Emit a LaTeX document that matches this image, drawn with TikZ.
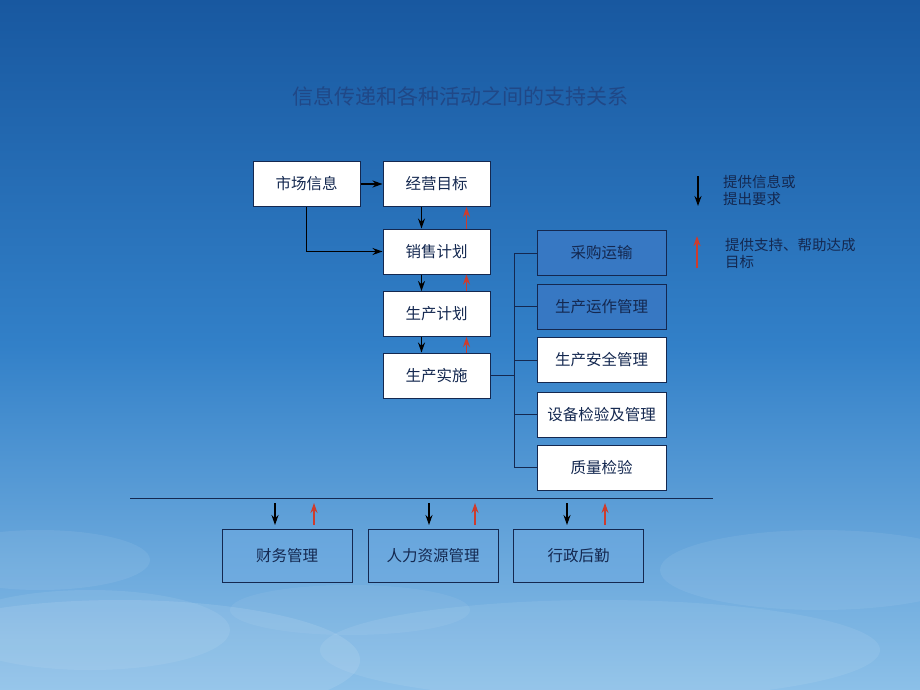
\documentclass[tikz,border=0pt]{standalone}
\usepackage{fontspec}
\setmainfont{Noto Sans CJK SC}
\usetikzlibrary{arrows.meta}
\definecolor{skytop}{RGB}{24,88,160}
\definecolor{skymid}{RGB}{50,128,200}
\definecolor{skybot}{RGB}{140,192,232}
\definecolor{navy}{RGB}{20,40,80}
\definecolor{titlec}{RGB}{32,72,135}
\definecolor{darkbox}{RGB}{55,120,195}
\definecolor{lightbox}{RGB}{110,170,225}
\definecolor{redarr}{RGB}{205,60,45}
\tikzset{
  box/.style={draw=navy, line width=1pt, fill=white, minimum width=107pt, minimum height=45pt, inner sep=0pt, font=\fontsize{15.5}{18}\selectfont, text=navy},
  rbox/.style={box, minimum width=129pt},
  bluebox/.style={rbox, fill=darkbox},
  bbox/.style={box, minimum width=130pt, minimum height=53pt, fill=lightbox, fill opacity=0.5, text opacity=1},
  downarr/.style={-{Stealth[length=10pt,width=7pt]}, line width=1.2pt, draw=black},
  uparr/.style={-{Stealth[length=10pt,width=7pt]}, line width=1.2pt, draw=redarr, fill=redarr},
  ln/.style={line width=1pt, draw=navy},
  leg/.style={font=\fontsize{14.5}{17}\selectfont, text=navy, align=left, anchor=north west, inner sep=0pt}
}
\begin{document}
\begin{tikzpicture}[x=1pt,y=-1pt]
\useasboundingbox (0,0) rectangle (920,690);
\shade[top color=skytop, bottom color=skymid] (0,0) rectangle (920,345);
\shade[top color=skymid, bottom color=skybot] (0,345) rectangle (920,690);
\foreach \cx/\cy/\rx/\ry/\op in {120/660/240/60/0.10, 90/630/140/40/0.08, 600/650/280/50/0.08, 820/570/160/40/0.07, 40/560/110/30/0.07, 350/610/120/25/0.06} {
  \fill[white, opacity=\op] (\cx,\cy) ellipse (\rx pt and \ry pt);
}

\node[text=titlec, font=\fontsize{21}{24}\selectfont] (title) at (460,96) {信息传递和各种活动之间的支持关系};

\node[box] (sc) at (306.5,184) {市场信息};
\node[box] (jy) at (436.5,184) {经营目标};
\node[box] (xs) at (436.5,251.5) {销售计划};
\node[box] (sj) at (436.5,314) {生产计划};
\node[box] (ss) at (436.5,375.5) {生产实施};

\node[bluebox] (cg) at (601.5,253) {采购运输};
\node[bluebox] (yz) at (601.5,306.5) {生产运作管理};
\node[rbox] (aq) at (601.5,360) {生产安全管理};
\node[rbox] (sb) at (601.5,414.5) {设备检验及管理};
\node[rbox] (zl) at (601.5,467.5) {质量检验};

\node[bbox] (cw) at (287,555.5) {财务管理};
\node[bbox] (rl) at (433,555.5) {人力资源管理};
\node[bbox] (xz) at (578.5,555.5) {行政后勤};

\draw[downarr] (sc.east) -- (jy.west);
\draw[downarr] (sc.south) |- (xs.west);
\draw[downarr] ([xshift=-15pt]jy.south) -- ([xshift=-15pt]xs.north);
\draw[downarr] ([xshift=-15pt]xs.south) -- ([xshift=-15pt]sj.north);
\draw[downarr] ([xshift=-15pt]sj.south) -- ([xshift=-15pt]ss.north);
\draw[uparr] ([xshift=30pt]xs.north) -- ([xshift=30pt]jy.south);
\draw[uparr] ([xshift=30pt]sj.north) -- ([xshift=30pt]xs.south);
\draw[uparr] ([xshift=30pt]ss.north) -- ([xshift=30pt]sj.south);

\coordinate (bj) at (514,375.5);
\draw[ln] (ss.east) -- (bj);
\draw[ln] (bj |- cg.west) -- (bj |- zl.west);
\foreach \n in {cg,yz,aq,sb,zl} \draw[ln] (bj |- \n.west) -- (\n.west);

\coordinate (hl) at (130,498);
\coordinate (hr) at (713,498);
\draw[line width=1pt, draw=navy] (hl) -- (hr);

\coordinate (a1) at (275,503); \coordinate (a2) at (275,525);
\coordinate (b1) at (314,525); \coordinate (b2) at (314,503);
\coordinate (c1) at (429,503); \coordinate (c2) at (429,525);
\coordinate (d1) at (475,525); \coordinate (d2) at (475,503);
\coordinate (e1) at (567,503); \coordinate (e2) at (567,525);
\coordinate (f1) at (605,525); \coordinate (f2) at (605,503);
\draw[downarr] (a1) -- (a2);
\draw[uparr] (b1) -- (b2);
\draw[downarr] (c1) -- (c2);
\draw[uparr] (d1) -- (d2);
\draw[downarr] (e1) -- (e2);
\draw[uparr] (f1) -- (f2);

\coordinate (la1) at (698,176);
\coordinate (la2) at (698,206);
\draw[downarr, line width=1.6pt] (la1) -- (la2);
\coordinate (lb1) at (697,268);
\coordinate (lb2) at (697,236);
\draw[uparr, line width=1.6pt] (lb1) -- (lb2);
\node[leg] (lt1) at (723,175) {提供信息或\\提出要求};
\node[leg] (lt2) at (725,238) {提供支持、帮助达成\\目标};
\end{tikzpicture}
\end{document}
